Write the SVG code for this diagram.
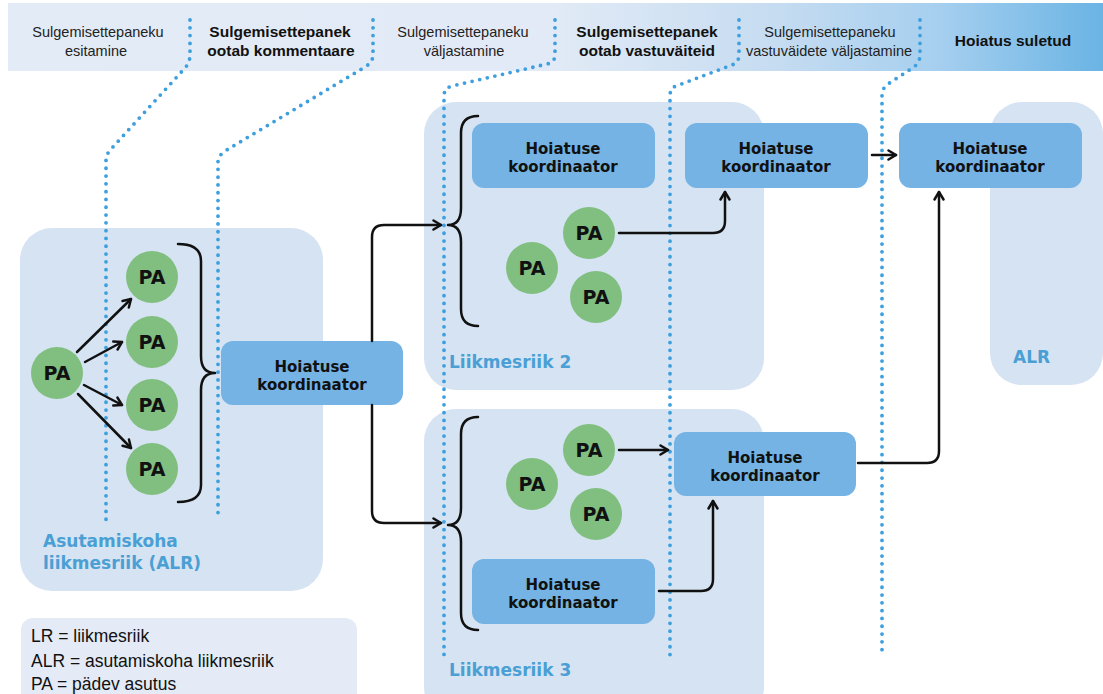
<svg xmlns="http://www.w3.org/2000/svg" width="1103" height="694" viewBox="0 0 1103 694">
<defs>
<linearGradient id="band" x1="8" y1="0" x2="1103" y2="0" gradientUnits="userSpaceOnUse">
<stop offset="0" stop-color="#e3ebf6"/>
<stop offset="0.5" stop-color="#e1eaf6"/>
<stop offset="0.7" stop-color="#c6dcf1"/>
<stop offset="0.85" stop-color="#a6cfef"/>
<stop offset="1" stop-color="#6ab4e4"/>
</linearGradient>
<marker id="arr" viewBox="0 0 12 12" refX="10" refY="6" markerWidth="12" markerHeight="12" markerUnits="userSpaceOnUse" orient="auto">
<path d="M2.5,1.5 L10,6 L2.5,10.5" fill="none" stroke="#111" stroke-width="2.5" stroke-linecap="round" stroke-linejoin="round"/>
</marker>
<style>
.hdr{font-family:"Liberation Sans",Arial,sans-serif;font-size:14.5px;fill:#222;text-anchor:middle}
.hdrb{font-family:"Liberation Sans",Arial,sans-serif;font-size:15.5px;font-weight:bold;fill:#111;text-anchor:middle}
.cont{fill:#d6e3f2}
.coord{fill:#74b3e3}
.ct{font-family:"DejaVu Sans",sans-serif;font-size:15px;font-weight:bold;fill:#111;text-anchor:middle}
.pa{fill:#80bf80}
.pat{font-family:"DejaVu Sans",sans-serif;font-size:19px;font-weight:bold;fill:#111;text-anchor:middle}
.lbl{font-family:"DejaVu Sans",sans-serif;font-size:17px;font-weight:bold;fill:#4a9fd4}
.dot{fill:none;stroke:#3d9fdd;stroke-width:3.8;stroke-linecap:round;stroke-dasharray:0 7.8}
.conn{fill:none;stroke:#111;stroke-width:2.5;stroke-linecap:round;stroke-linejoin:round}
.leg{font-family:"Liberation Sans",Arial,sans-serif;font-size:17.5px;fill:#111}
</style>
</defs>

<g id="header">
<rect x="8" y="3" width="1095" height="68" fill="url(#band)"/>
<text class="hdr" x="98" y="37">Sulgemisettepaneku</text>
<text class="hdr" x="96" y="56">esitamine</text>
<text class="hdrb" x="280" y="37">Sulgemisettepanek</text>
<text class="hdrb" x="281" y="56">ootab kommentaare</text>
<text class="hdr" x="463" y="37">Sulgemisettepaneku</text>
<text class="hdr" x="464" y="56">väljastamine</text>
<text class="hdrb" x="647" y="37">Sulgemisettepanek</text>
<text class="hdrb" x="647" y="56">ootab vastuväiteid</text>
<text class="hdr" x="830" y="37">Sulgemisettepaneku</text>
<text class="hdr" x="829" y="56">vastuväidete väljastamine</text>
<text class="hdrb" x="1013" y="46">Hoiatus suletud</text>
</g>

<g id="containers">
<rect id="alr-box" class="cont" x="20" y="228" width="303" height="363" rx="32"/>
<rect id="lr2-box" class="cont" x="424" y="102" width="340" height="288" rx="32"/>
<rect id="lr3-box" class="cont" x="424" y="409" width="340" height="310" rx="32"/>
<rect id="alr-right-box" class="cont" x="990" y="102" width="113" height="283" rx="32"/>
<text class="lbl" x="43" y="547">Asutamiskoha</text>
<text class="lbl" x="43" y="569">liikmesriik (ALR)</text>
<text class="lbl" x="449" y="368">Liikmesriik 2</text>
<text class="lbl" x="449" y="676">Liikmesriik 3</text>
<text class="lbl" x="1013" y="363">ALR</text>
</g>

<g id="phase-lines">
<path class="dot" d="M190,20 V55 Q190,62 185,68 L112,148 Q106,154 106,160 V520"/>
<path class="dot" d="M373,20 V55 Q373,62 365,67 L225,151 Q218,156 218,162 V520"/>
<path class="dot" d="M555,20 V55 Q555,62 547,64 L452,86 Q444,88 444,96 V655"/>
<path class="dot" d="M739,20 V55 Q739,62 732,65 L676,86 Q670,88 670,96 V655"/>
<path class="dot" d="M920,20 V55 Q920,62 914,67 L888,84 Q882,88 882,96 V655"/>
</g>

<g id="braces" class="conn">
<path d="M178,244 Q201,244 201,261 V356 Q201,373 215,373 Q201,373 201,390 V485 Q201,502 178,502"/>
<path d="M478,116 Q461,116 461,133 V208 Q461,225 448,225 Q461,225 461,242 V309 Q461,326 478,326"/>
<path d="M478,417 Q461,417 461,434 V508 Q461,525 448,525 Q461,525 461,542 V613 Q461,630 478,630"/>
</g>

<g id="pa-alr-center"><circle class="pa" cx="57" cy="373" r="26"/><text class="pat" x="57" y="380">PA</text></g>
<g id="pa-alr-1"><circle class="pa" cx="152" cy="277" r="26"/><text class="pat" x="152" y="284">PA</text></g>
<g id="pa-alr-2"><circle class="pa" cx="152" cy="342" r="26"/><text class="pat" x="152" y="349">PA</text></g>
<g id="pa-alr-3"><circle class="pa" cx="152" cy="405" r="26"/><text class="pat" x="152" y="412">PA</text></g>
<g id="pa-alr-4"><circle class="pa" cx="152" cy="469" r="26"/><text class="pat" x="152" y="476">PA</text></g>

<g id="coord-alr"><rect class="coord" x="221" y="341" width="182" height="64" rx="12"/><text class="ct" x="312" y="372">Hoiatuse</text><text class="ct" x="312" y="390">koordinaator</text></g>

<g id="coord-lr2-inner"><rect class="coord" x="472" y="123" width="183" height="65" rx="12"/><text class="ct" x="563" y="154">Hoiatuse</text><text class="ct" x="563" y="172">koordinaator</text></g>
<g id="pa-lr2-1"><circle class="pa" cx="589" cy="233" r="26"/><text class="pat" x="589" y="240">PA</text></g>
<g id="pa-lr2-2"><circle class="pa" cx="532" cy="268" r="26"/><text class="pat" x="532" y="275">PA</text></g>
<g id="pa-lr2-3"><circle class="pa" cx="596" cy="297" r="26"/><text class="pat" x="596" y="304">PA</text></g>
<g id="coord-lr2"><rect class="coord" x="685" y="123" width="183" height="65" rx="12"/><text class="ct" x="776" y="154">Hoiatuse</text><text class="ct" x="776" y="172">koordinaator</text></g>

<g id="pa-lr3-1"><circle class="pa" cx="589" cy="450" r="26"/><text class="pat" x="589" y="457">PA</text></g>
<g id="pa-lr3-2"><circle class="pa" cx="532" cy="484" r="26"/><text class="pat" x="532" y="491">PA</text></g>
<g id="pa-lr3-3"><circle class="pa" cx="596" cy="514" r="26"/><text class="pat" x="596" y="521">PA</text></g>
<g id="coord-lr3-inner"><rect class="coord" x="472" y="559" width="183" height="65" rx="12"/><text class="ct" x="563" y="590">Hoiatuse</text><text class="ct" x="563" y="608">koordinaator</text></g>
<g id="coord-lr3"><rect class="coord" x="674" y="432" width="182" height="64" rx="12"/><text class="ct" x="765" y="463">Hoiatuse</text><text class="ct" x="765" y="481">koordinaator</text></g>

<g id="coord-alr-final"><rect class="coord" x="899" y="123" width="183" height="65" rx="12"/><text class="ct" x="990" y="154">Hoiatuse</text><text class="ct" x="990" y="172">koordinaator</text></g>

<g id="connectors" class="conn">
<path d="M77,352 L131,299" marker-end="url(#arr)"/>
<path d="M85,362 L122,342" marker-end="url(#arr)"/>
<path d="M84,385 L122,405" marker-end="url(#arr)"/>
<path d="M78,394 L131,448" marker-end="url(#arr)"/>
<path d="M372,341 V237 Q372,225 384,225 H441" marker-end="url(#arr)"/>
<path d="M372,405 V511 Q372,523 384,523 H441" marker-end="url(#arr)"/>
<path d="M619,233 H713 Q725,233 725,221 V192" marker-end="url(#arr)"/>
<path d="M872,155 H896" marker-end="url(#arr)"/>
<path d="M619,450 H668" marker-end="url(#arr)"/>
<path d="M659,591 H701 Q713,591 713,579 V501" marker-end="url(#arr)"/>
<path d="M858,463 H927 Q939,463 939,451 V192" marker-end="url(#arr)"/>
</g>

<g id="legend">
<rect x="21" y="618" width="336" height="100" rx="12" fill="#e4ebf6"/>
<text class="leg" x="31" y="642">LR = liikmesriik</text>
<text class="leg" x="31" y="667">ALR = asutamiskoha liikmesriik</text>
<text class="leg" x="31" y="690">PA = pädev asutus</text>
</g>
</svg>
